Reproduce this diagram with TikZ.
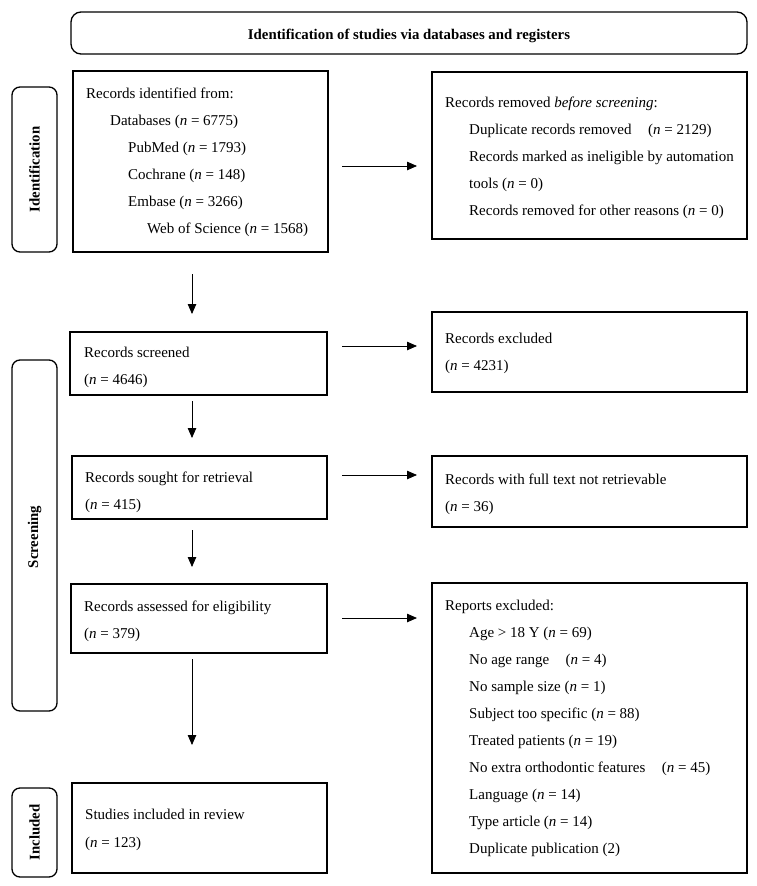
\documentclass[tikz,border=0pt]{standalone}
\usepackage{fontspec}
\setmainfont{Liberation Serif}
\usetikzlibrary{arrows.meta}
\begin{document}
\begin{tikzpicture}[x=1pt,y=-1pt,
  stagebox/.style={draw, line width=1.5pt, rectangle, inner sep=0pt, outer sep=0pt, anchor=north west},
  sidebox/.style={draw, line width=1.3pt, rounded corners=8pt, inner sep=0pt, outer sep=0pt, anchor=north west},
  txt/.style={anchor=base west, inner sep=0pt, font=\fontsize{15}{18}\selectfont},
  btxt/.style={inner sep=0pt, font=\fontsize{14.8}{18}\selectfont\bfseries},
  flow/.style={line width=0.8pt, -{Triangle[length=10pt,width=8.5pt]}}]
\useasboundingbox (0,0) rectangle (757,886);
\fill[white] (0,0) rectangle (757,886);

% title
\node[sidebox, rounded corners=10pt, minimum width=676pt, minimum height=42pt] (title) at (71,12) {};
\node[btxt] at (409,35.5) {Identification of studies via databases and registers};

% side labels
\node[sidebox, minimum width=45pt, minimum height=165pt] (sid) at (12,87) {};
\node[btxt, rotate=90] at (sid.center) {Identification};
\node[sidebox, minimum width=45pt, minimum height=351pt] (sscr) at (12,360) {};
\node[btxt, rotate=90] at (34.5,537) {Screening};
\node[sidebox, minimum width=45pt, minimum height=89pt] (sinc) at (12,788) {};
\node[btxt, rotate=90] at (sinc.center) {Included};

% identification
\node[stagebox, minimum width=255pt, minimum height=181pt] (ids) at (73,71) {};
\node[txt] at (86,98) {Records identified from:};
\node[txt] at (110,125) {Databases (\textit{n} = 6775)};
\node[txt] at (128,152) {PubMed (\textit{n} = 1793)};
\node[txt] at (128,179) {Cochrane (\textit{n} = 148)};
\node[txt] at (128,206) {Embase (\textit{n} = 3266)};
\node[txt] at (147,233) {Web of Science (\textit{n} = 1568)};

\node[stagebox, minimum width=315pt, minimum height=167pt] (rem) at (432,72) {};
\node[txt] at (445,107) {Records removed \textit{before screening}:};
\node[txt] at (469,134) {Duplicate records removed\hspace{1.1em}(\textit{n} = 2129)};
\node[txt] at (469,161) {Records marked as ineligible by automation};
\node[txt] at (469,188) {tools (\textit{n} = 0)};
\node[txt] at (469,215) {Records removed for other reasons (\textit{n} = 0)};

% screening
\node[stagebox, minimum width=257pt, minimum height=63pt] (scr) at (70,332) {};
\node[txt] at (84,357) {Records screened};
\node[txt] at (84,384) {(\textit{n} = 4646)};

\node[stagebox, minimum width=315pt, minimum height=80pt] (exc) at (432,312) {};
\node[txt] at (445,343) {Records excluded};
\node[txt] at (445,370) {(\textit{n} = 4231)};

\node[stagebox, minimum width=255pt, minimum height=63pt] (sou) at (72,456) {};
\node[txt] at (85,482) {Records sought for retrieval};
\node[txt] at (85,509) {(\textit{n} = 415)};

\node[stagebox, minimum width=315pt, minimum height=71pt] (nret) at (432,456) {};
\node[txt] at (445,484) {Records with full text not retrievable};
\node[txt] at (445,511) {(\textit{n} = 36)};

\node[stagebox, minimum width=256pt, minimum height=69pt] (ass) at (71,584) {};
\node[txt] at (84,611) {Records assessed for eligibility};
\node[txt] at (84,638) {(\textit{n} = 379)};

\node[stagebox, minimum width=315pt, minimum height=290pt] (rep) at (432,583) {};
\node[txt] at (445,610) {Reports excluded:};
\node[txt] at (469,637) {Age > 18 Y (\textit{n} = 69)};
\node[txt] at (469,664) {No age range\hspace{1.1em}(\textit{n} = 4)};
\node[txt] at (469,691) {No sample size (\textit{n} = 1)};
\node[txt] at (469,718) {Subject too specific (\textit{n} = 88)};
\node[txt] at (469,745) {Treated patients (\textit{n} = 19)};
\node[txt] at (469,772) {No extra orthodontic features\hspace{1.1em}(\textit{n} = 45)};
\node[txt] at (469,799) {Language (\textit{n} = 14)};
\node[txt] at (469,826) {Type article (\textit{n} = 14)};
\node[txt] at (469,853) {Duplicate publication (2)};

% included
\node[stagebox, minimum width=255pt, minimum height=90pt] (inc) at (72,783) {};
\node[txt] at (85,819) {Studies included in review};
\node[txt] at (85,847) {(\textit{n} = 123)};

% connectors
\coordinate (a1s) at (342,166); \coordinate (a1e) at (417,166);
\draw[flow] (a1s) -- (a1e);
\coordinate (a2s) at (342,346); \coordinate (a2e) at (417,346);
\draw[flow] (a2s) -- (a2e);
\coordinate (a3s) at (342,475); \coordinate (a3e) at (417,475);
\draw[flow] (a3s) -- (a3e);
\coordinate (a4s) at (342,618); \coordinate (a4e) at (417,618);
\draw[flow] (a4s) -- (a4e);

\coordinate (d1s) at (192,274); \coordinate (d1e) at (192,314);
\draw[flow] (d1s) -- (d1e);
\coordinate (d2s) at (192,401); \coordinate (d2e) at (192,438);
\draw[flow] (d2s) -- (d2e);
\coordinate (d3s) at (192,530); \coordinate (d3e) at (192,567);
\draw[flow] (d3s) -- (d3e);
\coordinate (d4s) at (192,659); \coordinate (d4e) at (192,745);
\draw[flow] (d4s) -- (d4e);
\end{tikzpicture}
\end{document}
